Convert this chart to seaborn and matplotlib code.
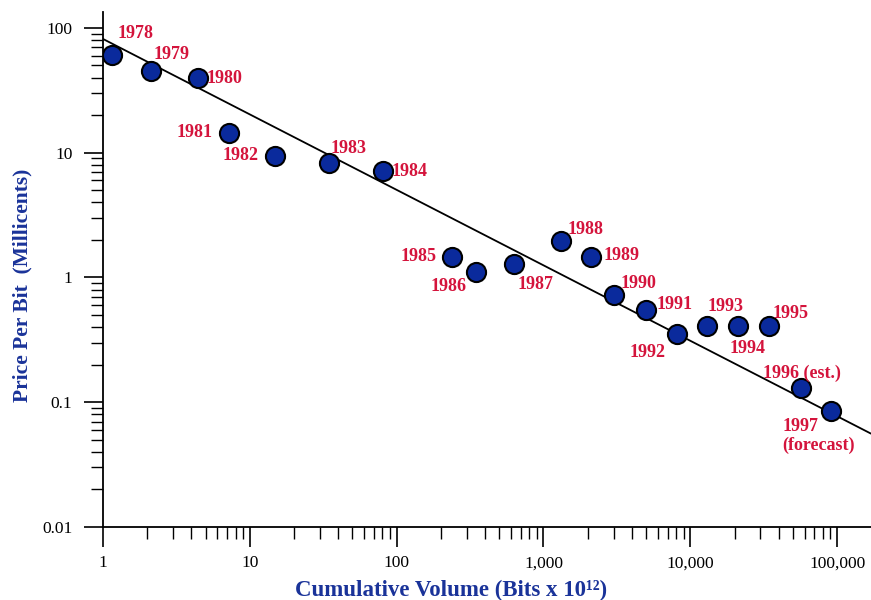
import matplotlib
matplotlib.use("Agg")
import matplotlib.pyplot as plt
import matplotlib.ticker as mticker
import seaborn as sns
import pandas as pd
import numpy as np

years = ["1978", "1979", "1980", "1981", "1982", "1983", "1984", "1985", "1986",
         "1987", "1988", "1989", "1990", "1991", "1992", "1993", "1994", "1995",
         "1996 (est.)", "1997\n(forecast)"]
volume = [1.16, 2.13, 4.43, 7.16, 14.8, 34.6, 80.7, 239, 345, 632, 1312, 2122,
          3040, 5000, 8070, 13060, 21200, 34400, 56300, 91000]
price = [60.4, 45.2, 39.3, 14.4, 9.43, 8.20, 7.07, 1.46, 1.11, 1.28, 1.95, 1.46,
         0.721, 0.544, 0.352, 0.407, 0.407, 0.407, 0.130, 0.0849]

trend_x = [1, 170000]
trend_y = [81.5, 0.056]

# label offsets (pixels) and alignment
label_dx = [5, 2, 9, -16, -16, 2, 9, -16, -9, 3, 7, 12, 6, 10, -11, 0, 9, 3, 1, -49]
label_dy = [22, 16, 0, 0, 0, 15, 0, 0, -15, -20, 12, 1, 12, 6, -18, 20, -22, 13, 15, -25]
label_ha = ["left", "left", "left", "right", "right", "left", "left", "right", "right",
            "left", "left", "left", "left", "left", "right", "left", "center", "left",
            "center", "left"]

df = pd.DataFrame({"volume": volume, "price": price, "year": years})

sns.set_style("ticks")
plt.rcParams["font.family"] = ["Liberation Serif", "DejaVu Serif"]

fig = plt.figure(figsize=(8.71, 6.0), dpi=100)
ax = fig.add_axes([103 / 871, 73 / 600, 1 - 103 / 871, (527 - 12) / 600])

ax.plot(trend_x, trend_y, color="black", lw=1.3, zorder=2)
sns.scatterplot(data=df, x="volume", y="price", ax=ax, s=190, color="#0A2A9C",
                edgecolor="black", linewidth=1.5, zorder=3, legend=False)

ax.set_xscale("log")
ax.set_yscale("log")
ax.set_xlim(1, 170000)
ax.set_ylim(0.01, 134)

for x, y, t, dx, dy, ha in zip(volume, price, years, label_dx, label_dy, label_ha):
    ax.annotate(t, (x, y), xytext=(dx * 0.72, dy * 0.72), textcoords="offset points",
                ha=ha, va="center", color="#D4143C", fontsize=13,
                fontweight="bold", linespacing=1.1, zorder=4)

sns.despine(ax=ax)
for s in ["left", "bottom"]:
    ax.spines[s].set_linewidth(1.3)
    ax.spines[s].set_color("black")

ax.xaxis.set_major_locator(mticker.LogLocator(base=10, numticks=10))
ax.xaxis.set_minor_locator(mticker.LogLocator(base=10, subs=np.arange(2, 10), numticks=20))
ax.yaxis.set_major_locator(mticker.LogLocator(base=10, numticks=10))
ax.yaxis.set_minor_locator(mticker.LogLocator(base=10, subs=np.arange(2, 10), numticks=20))
ax.xaxis.set_major_formatter(mticker.FuncFormatter(lambda v, p: f"{v:,.0f}"))
ax.yaxis.set_major_formatter(mticker.FuncFormatter(
    lambda v, p: f"{v:g}" if v >= 0.1 else f"{v:.2f}"))
ax.xaxis.set_minor_formatter(mticker.NullFormatter())
ax.yaxis.set_minor_formatter(mticker.NullFormatter())

ax.tick_params(axis="both", which="major", width=1.2, labelsize=12.5,
               color="black", labelcolor="black")
ax.tick_params(axis="x", which="major", length=14.5, pad=6)
ax.tick_params(axis="y", which="major", length=14, pad=8)
ax.tick_params(axis="both", which="minor", length=8.5, width=1.0, color="black")

ax.set_xlabel("Cumulative Volume (Bits x 10¹²)", fontsize=16.5, fontweight="bold",
              color="#1A3399")
ax.set_ylabel("Price Per Bit  (Millicents)", fontsize=15.5, fontweight="bold",
              color="#1A3399")
ax.xaxis.set_label_coords((451 - 103) / 768, (527 - 590) / 515)
ax.xaxis.label.set_va("center")
ax.yaxis.set_label_coords((22 - 103) / 768, (527 - 285) / 515)
ax.yaxis.label.set_va("center")

fig.savefig("out.png", dpi=100)
